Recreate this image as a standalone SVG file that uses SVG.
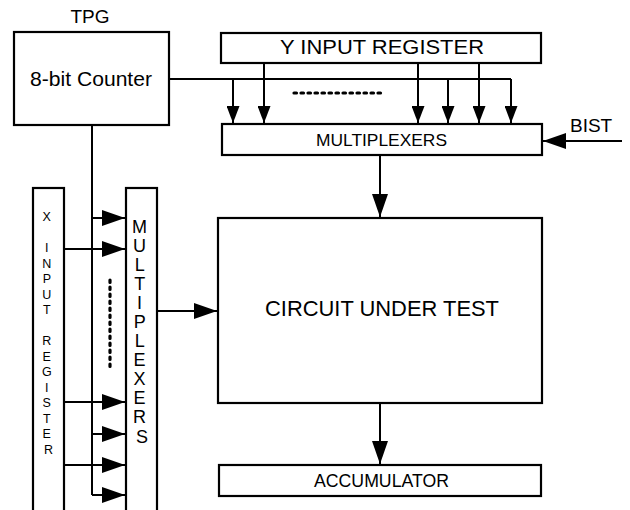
<svg xmlns="http://www.w3.org/2000/svg" width="630" height="510" viewBox="0 0 630 510">
  <style>
    .box { fill: #fff; stroke: #000; stroke-width: 2.2; }
    .wire { fill: none; stroke: #000; stroke-width: 2; }
    .dots { fill: none; stroke: #000; stroke-width: 3.2; stroke-linecap: round; stroke-dasharray: 2.5 4.5; }
    text { font-family: "Liberation Sans", Arial, sans-serif; fill: #000; }
    .mid { text-anchor: middle; }
  </style>
  <defs>
    <marker id="big" markerUnits="userSpaceOnUse" markerWidth="24" markerHeight="17" refX="23" refY="8" orient="auto">
      <path d="M0,0 L23,8 L0,16 z" fill="#000"/>
    </marker>
    <marker id="small" markerUnits="userSpaceOnUse" markerWidth="18" markerHeight="13" refX="17" refY="6.5" orient="auto">
      <path d="M0,0 L17,6.5 L0,13 z" fill="#000"/>
    </marker>
  </defs>

  <!-- test pattern generator -->
  <g id="tpg">
    <text class="mid" x="90" y="23" font-size="19">TPG</text>
    <rect class="box" x="14" y="32" width="155" height="93"/>
    <text class="mid" x="91" y="86" font-size="20" textLength="122" lengthAdjust="spacingAndGlyphs">8-bit Counter</text>
  </g>

  <g id="y-input-register">
    <rect class="box" x="221" y="33" width="320" height="30"/>
    <text class="mid" x="382" y="54" font-size="20" textLength="204" lengthAdjust="spacingAndGlyphs">Y INPUT REGISTER</text>
  </g>

  <g id="y-multiplexers">
    <rect class="box" x="222" y="124" width="320" height="31"/>
    <text class="mid" x="381.5" y="146" font-size="17" textLength="131" lengthAdjust="spacingAndGlyphs">MULTIPLEXERS</text>
  </g>

  <g id="bist">
    <text x="570" y="132" font-size="19">BIST</text>
  </g>

  <g id="x-input-register">
    <rect class="box" x="33" y="188" width="31" height="330"/>
    <text class="mid" font-size="12.5">
      <tspan x="48.5" y="221">X</tspan>
      <tspan x="48.5" y="252">I</tspan>
      <tspan x="48.5" y="267.5">N</tspan>
      <tspan x="48.5" y="283">P</tspan>
      <tspan x="48.5" y="298.5">U</tspan>
      <tspan x="48.5" y="314">T</tspan>
      <tspan x="48.5" y="345">R</tspan>
      <tspan x="48.5" y="360.5">E</tspan>
      <tspan x="48.5" y="376">G</tspan>
      <tspan x="48.5" y="391.5">I</tspan>
      <tspan x="48.5" y="407">S</tspan>
      <tspan x="48.5" y="422.5">T</tspan>
      <tspan x="48.5" y="438">E</tspan>
      <tspan x="48.5" y="453.5">R</tspan>
    </text>
  </g>

  <g id="x-multiplexers">
    <rect class="box" x="126" y="188" width="31" height="330"/>
    <text class="mid" font-size="18">
      <tspan x="142" y="233">M</tspan>
      <tspan x="142" y="252">U</tspan>
      <tspan x="142" y="271">L</tspan>
      <tspan x="142" y="290">T</tspan>
      <tspan x="142" y="309">I</tspan>
      <tspan x="142" y="328">P</tspan>
      <tspan x="142" y="347">L</tspan>
      <tspan x="142" y="366">E</tspan>
      <tspan x="142" y="385">X</tspan>
      <tspan x="142" y="404">E</tspan>
      <tspan x="142" y="423">R</tspan>
      <tspan x="142" y="443">S</tspan>
    </text>
  </g>

  <g id="cut">
    <rect class="box" x="218" y="218" width="324" height="185"/>
    <text class="mid" x="382" y="316" font-size="22" textLength="234" lengthAdjust="spacingAndGlyphs">CIRCUIT UNDER TEST</text>
  </g>

  <g id="accumulator">
    <rect class="box" x="219" y="465" width="322" height="31"/>
    <text class="mid" x="381.5" y="487" font-size="18" textLength="135" lengthAdjust="spacingAndGlyphs">ACCUMULATOR</text>
  </g>

  <g id="connectors">
    <!-- counter bus to Y multiplexers -->
    <path class="wire" d="M169,79 H511"/>
    <path class="wire" d="M233,79 V123" marker-end="url(#small)"/>
    <path class="wire" d="M448,79 V123" marker-end="url(#small)"/>
    <path class="wire" d="M511,79 V123" marker-end="url(#small)"/>
    <!-- Y register bits -->
    <path class="wire" d="M264,63 V123" marker-end="url(#small)"/>
    <path class="wire" d="M418,63 V123" marker-end="url(#small)"/>
    <path class="wire" d="M479,63 V123" marker-end="url(#small)"/>
    <path class="dots" d="M294,93 H385"/>

    <!-- counter bus to X multiplexers -->
    <path class="wire" d="M92,125 V495"/>
    <path class="wire" d="M92,218 H125" marker-end="url(#big)"/>
    <path class="wire" d="M92,434 H125" marker-end="url(#big)"/>
    <path class="wire" d="M92,495 H125" marker-end="url(#big)"/>
    <!-- X register bits -->
    <path class="wire" d="M64,249 H125" marker-end="url(#big)"/>
    <path class="wire" d="M64,402 H125" marker-end="url(#big)"/>
    <path class="wire" d="M64,465 H125" marker-end="url(#big)"/>
    <path class="dots" d="M110,280 V370"/>

    <!-- data path -->
    <path class="wire" d="M622,141 H543" marker-end="url(#big)"/>
    <path class="wire" d="M380,155 V217" marker-end="url(#big)"/>
    <path class="wire" d="M157,311 H217" marker-end="url(#big)"/>
    <path class="wire" d="M380,403 V464" marker-end="url(#big)"/>
  </g>
</svg>
